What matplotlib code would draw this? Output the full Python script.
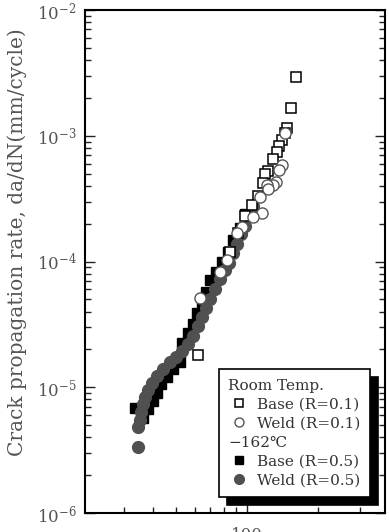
#!/usr/bin/env python3

import matplotlib
matplotlib.use('Agg')
import matplotlib.pyplot as plt
from matplotlib.lines import Line2D
from matplotlib.ticker import LogLocator, NullFormatter, FixedLocator, FixedFormatter

plt.rcParams['font.family'] = ['DejaVu Serif', 'Noto Sans CJK KR']
plt.rcParams['mathtext.fontset'] = 'dejavuserif'

# Room temperature, base metal R=0.1 (open squares)
base_rt_dk = [161, 154, 148, 145, 141, 137, 134, 129, 123, 119, 117, 111, 105, 98, 92, 85, 62]
base_rt_rate = [2.93e-3, 1.66e-3, 1.15e-3, 1.05e-3, 9.3e-4, 8.3e-4, 7.4e-4, 6.5e-4, 5.2e-4,
                5.0e-4, 4.2e-4, 3.3e-4, 2.8e-4, 2.3e-4, 1.7e-4, 1.2e-4, 1.8e-5]

# Room temperature, weld metal R=0.1 (open circles)
weld_rt_dk = [145, 141, 136, 133, 129, 122, 123, 116, 113.5, 106, 95, 90.7, 82.3, 76.9, 63.2]
weld_rt_rate = [1.05e-3, 5.85e-4, 5.3e-4, 4.3e-4, 4.06e-4, 4.06e-4, 3.77e-4, 2.43e-4, 3.26e-4,
                2.26e-4, 1.88e-4, 1.69e-4, 1.03e-4, 8.25e-5, 5.13e-5]

# -162C, base metal R=0.5 (filled squares)
base_ct_dk = [98.1, 93.4, 87.2, 83.1, 78.4, 73.9, 69.7, 67.0, 64.5, 61.4, 59.0, 56.2, 53.0,
              52.0, 48.6, 45.8, 43.2, 41.6, 40.0, 38.1, 36.2, 33.5]
base_ct_rate = [2.39e-4, 1.85e-4, 1.48e-4, 1.19e-4, 9.9e-5, 8.25e-5, 7.13e-5, 5.72e-5,
                4.68e-5, 3.90e-5, 3.18e-5, 2.70e-5, 2.25e-5,
                1.59e-5, 1.40e-5, 1.21e-5, 1.06e-5, 9.0e-6, 7.78e-6, 6.72e-6, 5.69e-6, 6.84e-6]

# -162C, weld metal R=0.5 (filled grey circles)
weld_ct_dk = [106, 102, 98.1, 94.3, 90.7, 87.2, 83.9, 80.7, 76.9, 73.2, 69.7, 67.0, 64.5,
              62.0, 59.0, 56.2, 53.0, 50.0, 47.2, 44.1, 41.6, 39.6, 38.1, 37.0, 36.2, 35.5,
              35.2, 34.5, 34.5]
weld_ct_rate = [2.76e-4, 2.30e-4, 1.91e-4, 1.65e-4, 1.38e-4, 1.17e-4, 9.73e-5, 8.56e-5,
                7.26e-5, 6.04e-5, 5.03e-5, 4.27e-5, 3.62e-5, 3.07e-5, 2.56e-5, 2.21e-5,
                1.94e-5, 1.74e-5, 1.59e-5, 1.40e-5, 1.23e-5, 1.08e-5, 9.51e-6, 8.36e-6,
                7.36e-6, 6.35e-6, 5.49e-6, 4.83e-6, 3.35e-6]

x_ticks = [100]
x_labels = ['100']
y_ticks = [1e-6, 1e-5, 1e-4, 1e-3, 1e-2]
y_labels = [r'$10^{-6}$', r'$10^{-5}$', r'$10^{-4}$', r'$10^{-3}$', r'$10^{-2}$']

grey = '#505050'
text_col = '#555555'


def main():
  fig = plt.figure(figsize=(3.89, 5.32), dpi=100)
  ax = fig.add_axes([85/389, 1 - 513/532, 300/389, 503/532])

  ax.plot(base_ct_dk, base_ct_rate, 's', ms=6.5, mfc='k', mec='k', ls='none')
  ax.plot(weld_ct_dk, weld_ct_rate, 'o', ms=8.5, mfc=grey, mec=grey, ls='none')
  ax.plot(base_rt_dk, base_rt_rate, 's', ms=6.5, mfc='white', mec='k', mew=1.1, ls='none')
  ax.plot(weld_rt_dk, weld_rt_rate, 'o', ms=8, mfc='white', mec='#555555', mew=1.0, ls='none')

  ax.set_xscale('log')
  ax.set_yscale('log')
  ax.set_xlim(20.6, 384)
  ax.set_ylim(1e-6, 1e-2)

  ax.xaxis.set_major_locator(FixedLocator(x_ticks))
  ax.xaxis.set_major_formatter(FixedFormatter(x_labels))
  ax.xaxis.set_minor_locator(LogLocator(base=10, subs=range(2, 10)))
  ax.xaxis.set_minor_formatter(NullFormatter())
  ax.yaxis.set_major_locator(FixedLocator(y_ticks))
  ax.yaxis.set_major_formatter(FixedFormatter(y_labels))
  ax.yaxis.set_minor_locator(LogLocator(base=10, subs=range(2, 10)))
  ax.yaxis.set_minor_formatter(NullFormatter())

  ax.tick_params(which='both', direction='in', left=True, right=True, bottom=True, top=False,
                 width=1.0, color='#222222')
  ax.tick_params(which='major', length=7)
  ax.tick_params(which='minor', length=4)
  ax.tick_params(axis='y', which='major', labelsize=12, labelcolor=text_col, pad=6)
  ax.tick_params(axis='x', which='major', labelsize=12, labelcolor=text_col, pad=10)

  for sp in ax.spines.values():
    sp.set_linewidth(1.5)

  ax.set_ylabel('Crack propagation rate, da/dN(mm/cycle)', fontsize=14.5, color=text_col)
  ax.yaxis.set_label_coords(-0.193, 0.539)

  blank = Line2D([], [], ls='none')
  handles = [
    blank,
    Line2D([], [], marker='s', ls='none', ms=6, mfc='white', mec='k', mew=1.1),
    Line2D([], [], marker='o', ls='none', ms=6.5, mfc='white', mec='#555555'),
    blank,
    Line2D([], [], marker='s', ls='none', ms=6, mfc='k', mec='k'),
    Line2D([], [], marker='o', ls='none', ms=7, mfc=grey, mec=grey),
  ]
  labels = ['Room Temp.', 'Base (R=0.1)', 'Weld (R=0.1)', '\u2212162\u2103',
            'Base (R=0.5)', 'Weld (R=0.5)']
  leg = ax.legend(handles, labels, loc='lower right', bbox_to_anchor=(0.95, 0.032),
                  borderaxespad=0, fancybox=False, framealpha=1, edgecolor='k',
                  fontsize=11, labelcolor='#333333', handlelength=1.4,
                  handletextpad=0.5, labelspacing=0.33, borderpad=0.6,
                  shadow={'ox': 5.8, 'oy': -5.8, 'color': 'k', 'alpha': 1})
  leg.get_frame().set_linewidth(1.2)

  # header rows start at the left edge, without a handle
  rows = leg._legend_handle_box.get_children()[0].get_children()
  for i in (0, 3):
    rows[i].get_children().pop(0)

  fig.savefig('out.png', dpi=100)


if __name__ == '__main__':
  main()
